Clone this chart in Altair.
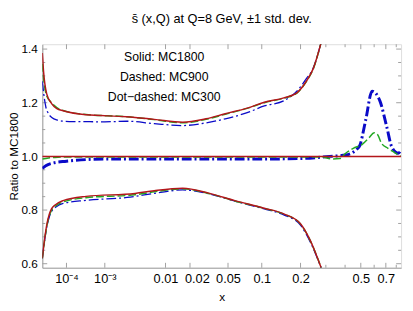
import altair as alt
import pandas as pd

# ---------------- data ----------------
# MC1800 (solid red)
red_up_x = [1e-5, 1.15e-5, 1.66e-5, 2.76e-5, 4.5e-5, 7.7e-5, 3.7e-4, 2.6e-3, 7e-3, 0.0164, 0.03, 0.047, 0.075, 0.105, 0.15, 0.188, 0.22, 0.2465, 0.279]
red_up_v = [1.385, 1.32, 1.233, 1.197, 1.178, 1.17, 1.155, 1.148, 1.138, 1.127, 1.14, 1.159, 1.18, 1.202, 1.218, 1.237, 1.28, 1.328, 1.425]
red_lo_x = [1e-5, 1.3e-5, 1.66e-5, 2.2e-5, 2.76e-5, 4e-5, 7.7e-5, 3.7e-4, 3.6e-3, 7e-3, 0.0164, 0.032, 0.058, 0.105, 0.15, 0.199, 0.2336, 0.279]
red_lo_v = [0.62, 0.69, 0.744, 0.785, 0.805, 0.82, 0.835, 0.851, 0.862, 0.872, 0.881, 0.863, 0.835, 0.807, 0.786, 0.75, 0.689, 0.585]
red_c_x = [1e-5, 0.85]
red_c_v = [1.0, 1.0]

# MC900 (dashed green)
grn_up_x = [1e-5, 1.15e-5, 1.66e-5, 2.76e-5, 4.5e-5, 7.7e-5, 3.7e-4, 2.6e-3, 7e-3, 0.0164, 0.03, 0.047, 0.075, 0.105, 0.15, 0.188, 0.22, 0.2465, 0.279]
grn_up_v = [1.345, 1.295, 1.225, 1.2, 1.182, 1.171, 1.156, 1.148, 1.137, 1.125, 1.138, 1.157, 1.179, 1.2, 1.217, 1.236, 1.279, 1.327, 1.425]
grn_lo_x = [1e-5, 1.3e-5, 1.66e-5, 2.2e-5, 2.76e-5, 4e-5, 7.7e-5, 3.7e-4, 3.6e-3, 7e-3, 0.0164, 0.032, 0.058, 0.105, 0.15, 0.199, 0.2336, 0.279]
grn_lo_v = [0.62, 0.685, 0.738, 0.78, 0.8, 0.815, 0.83, 0.846, 0.857, 0.868, 0.879, 0.862, 0.834, 0.806, 0.785, 0.749, 0.688, 0.585]
grn_c_x = [1e-5, 2e-5, 5e-5, 1e-4, 1e-3, 0.01, 0.1, 0.2, 0.28, 0.33, 0.37, 0.40, 0.45, 0.51, 0.56, 0.6, 0.63, 0.66, 0.72, 0.78, 0.85]
grn_c_v = [0.99, 0.994, 0.997, 0.998, 0.998, 0.998, 0.998, 0.998, 0.998, 0.99, 0.992, 1.01, 1.03, 1.045, 1.07, 1.088, 1.08, 1.05, 1.03, 1.015, 1.0]

# MC300 (dot-dashed blue)
blu_up_x = [1e-5, 1.2e-5, 1.5e-5, 1.98e-5, 2.8e-5, 4.4e-5, 1.23e-4, 1e-3, 2.64e-3, 7e-3, 0.0164, 0.03, 0.047, 0.075, 0.105, 0.15, 0.199, 0.22, 0.2465, 0.279]
blu_up_v = [1.28, 1.23, 1.185, 1.16, 1.145, 1.136, 1.13, 1.129, 1.131, 1.122, 1.115, 1.125, 1.14, 1.163, 1.188, 1.207, 1.258, 1.29, 1.33, 1.425]
blu_lo_x = [1e-5, 1.3e-5, 1.66e-5, 2.2e-5, 2.76e-5, 4e-5, 7.7e-5, 3.7e-4, 2.64e-3, 7e-3, 0.0164, 0.032, 0.058, 0.105, 0.15, 0.199, 0.2336, 0.279]
blu_lo_v = [0.62, 0.685, 0.735, 0.775, 0.795, 0.81, 0.825, 0.836, 0.847, 0.862, 0.875, 0.861, 0.833, 0.804, 0.782, 0.745, 0.683, 0.585]
blu_c_x = [1e-5, 1.5e-5, 3e-5, 1e-4, 1e-3, 0.01, 0.1, 0.2, 0.3186, 0.4034, 0.4884, 0.534, 0.5838, 0.6483, 0.7089, 0.755, 0.8208, 0.85]
blu_c_v = [0.955, 0.965, 0.975, 0.982, 0.99, 0.99, 0.99, 0.992, 1.0, 1.005, 1.036, 1.133, 1.243, 1.206, 1.109, 1.036, 1.012, 1.024]

# axis ticks
x_labelled = [1e-4, 1e-3, 0.01, 0.02, 0.05, 0.1, 0.2, 0.5, 0.7]
x_minor = [0.3, 0.4, 0.6, 0.8]
y_major = [0.6, 0.8, 1.0, 1.2, 1.4]
y_minor = [0.65, 0.7, 0.75, 0.85, 0.9, 0.95, 1.05, 1.1, 1.15, 1.25, 1.3, 1.35]

# in-plot annotation
note_text = ["Solid: MC1800", "Dashed: MC900", "Dot\u2212dashed: MC300"]
note_x = [0.0096, 0.0096, 0.0096]
note_v = [1.371, 1.294, 1.221]

W, H = 366, 228
P = 0.2                     # x axis is drawn as x^0.2
XDOM = [1e-5, 0.85]
YDOM = [0.585, 1.418]

TDOM = [XDOM[0] ** P, XDOM[1] ** P]
xs = alt.Scale(type="linear", domain=TDOM, nice=False, zero=False)
ys = alt.Scale(domain=YDOM, nice=False, zero=False)

RED, GRN, BLU = "#b3161b", "#22a822", "#0a0ac8"
FONT = "Liberation Sans"
TC = "#a0a0a0"

label_expr = ("pow(datum.value, 5) < 0.0002 ? '10\u207b\u2074' : "
              "pow(datum.value, 5) < 0.002 ? '10\u207b\u00b3' : format(pow(datum.value, 5), '.1~g')")

common = dict(labelFont=FONT, labelColor="black", titleFont=FONT,
              titleFontSize=12, titleFontWeight="normal", titleColor="black",
              domainColor=TC, ticks=False, grid=False, labelFlush=False)
label_shift = {
    "condition": {"test": "abs(pow(datum.value, 5) - 0.02) < 0.003", "value": 7},
    "value": 0,
}
XAXIS = alt.Axis(values=[v ** P for v in x_labelled], labelExpr=label_expr, labelPadding=5,
                 labelFontSize=13, titlePadding=6, labelOffset=label_shift, **common)
YAXIS = alt.Axis(values=y_major, format=".1f", labelPadding=5, labelFontSize=12,
                 titlePadding=1, **common)

T_EXPR = f"pow(datum.x, {P})"

def X():
    return alt.X("t:Q", scale=xs, title="x", axis=XAXIS)

def Y():
    return alt.Y("v:Q", scale=ys, title="Ratio to MC1800", axis=YAXIS)

def line(xv, vv, color, width, dash=None):
    df = pd.DataFrame({"x": xv, "v": vv})
    kw = dict(color=color, strokeWidth=width, interpolate="monotone", clip=True)
    if dash:
        kw["strokeDash"] = dash
    return alt.Chart(df).transform_calculate(t=T_EXPR).mark_line(**kw).encode(x=X(), y=Y())

DOT = [10, 3, 2, 3]
DASH = [8, 3]

layers = [
    line(blu_up_x, blu_up_v, BLU, 1.3, DOT),
    line(blu_lo_x, blu_lo_v, BLU, 1.3, DOT),
    line(blu_c_x, blu_c_v, BLU, 3.0, DOT),
    line(grn_up_x, grn_up_v, GRN, 1.5, DASH),
    line(grn_lo_x, grn_lo_v, GRN, 1.5, DASH),
    line(grn_c_x, grn_c_v, GRN, 1.5, DASH),
    line(red_up_x, red_up_v, RED, 1.5),
    line(red_lo_x, red_lo_v, RED, 1.5),
    line(red_c_x, red_c_v, RED, 1.5),
]

xt_major = pd.DataFrame({"x": x_labelled})
xt_minor = pd.DataFrame({"x": x_minor})
yt_major = pd.DataFrame({"v": y_major})
yt_minor = pd.DataFrame({"v": y_minor})

def xticks(df, ln):
    base = alt.Chart(df).transform_calculate(t=T_EXPR)
    bot = base.mark_rule(color=TC, strokeWidth=1).encode(
        x=X(), y=alt.value(H), y2=alt.value(H - ln))
    top = base.mark_rule(color=TC, strokeWidth=1).encode(
        x=X(), y=alt.value(0), y2=alt.value(ln))
    return [bot, top]

def yticks(df, ln):
    lft = alt.Chart(df).mark_rule(color=TC, strokeWidth=1).encode(
        y=Y(), x=alt.value(0), x2=alt.value(ln))
    rgt = alt.Chart(df).mark_rule(color=TC, strokeWidth=1).encode(
        y=Y(), x=alt.value(W), x2=alt.value(W - ln))
    return [lft, rgt]

ticks = xticks(xt_major, 5) + xticks(xt_minor, 3) + yticks(yt_major, 5) + yticks(yt_minor, 3)

notes = alt.Chart(pd.DataFrame({"x": note_x, "v": note_v, "t0": note_text})).transform_calculate(
    t=T_EXPR
).mark_text(
    font=FONT, fontSize=12.5, color="black", align="center", baseline="middle"
).encode(x=X(), y=Y(), text="t0:N")

chart = alt.layer(*ticks, *layers, notes).properties(
    width=W, height=H,
    title=alt.Title("s\u0304 (x,Q) at Q=8 GeV, \u00b11 std. dev.", font=FONT, fontSize=13,
                    fontWeight="normal", color="black", anchor="middle", offset=18),
    autosize=alt.AutoSizeParams(type="none"),
    padding={"left": 35, "top": 34, "right": 4, "bottom": 33},
).configure_view(stroke=TC, strokeWidth=1).configure(background="white")

chart.save("out.html", embed_options={"renderer": "svg", "actions": False})
